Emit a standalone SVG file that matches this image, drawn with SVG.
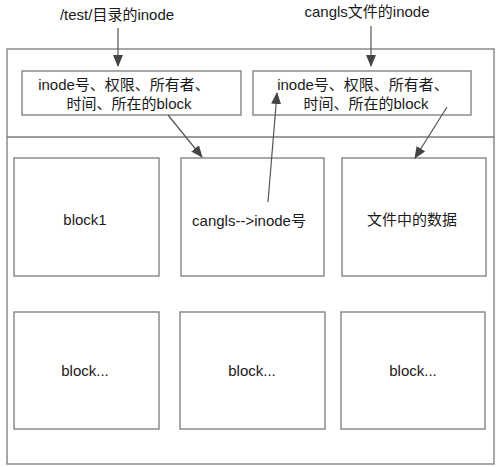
<svg xmlns="http://www.w3.org/2000/svg" width="500" height="467" viewBox="0 0 500 467">
<style>
.box{fill:#fff;stroke:#7a7a7a;stroke-width:1.3}
.t{font-family:"Liberation Sans","Noto Sans CJK SC",sans-serif;font-size:15px;fill:#1a1a1a;text-anchor:middle}
.c{stroke:#555;stroke-width:1.2;fill:none}
</style>
<defs>
<marker id="ah" markerWidth="12" markerHeight="10" refX="11" refY="5" orient="auto" markerUnits="userSpaceOnUse">
<path d="M0,0 L12,5 L0,10 Z" fill="#444"/>
</marker>
</defs>
<rect width="500" height="467" fill="#fff"/>
<g id="outer">
<rect class="box" x="7" y="49" width="487" height="415"/>
<line x1="7" y1="137" x2="494" y2="137" stroke="#7a7a7a" stroke-width="1.3"/>
</g>
<g id="label-test"><text class="t" x="117" y="20">/test/目录的inode</text></g>
<g id="label-cangls"><text class="t" x="367" y="17">cangls文件的inode</text></g>
<g id="inode-test">
<rect class="box" x="22" y="71" width="219" height="44"/>
<text class="t" x="124" y="90">inode号、权限、所有者、</text>
<text class="t" x="129" y="109">时间、所在的block</text>
</g>
<g id="inode-cangls">
<rect class="box" x="253" y="71" width="218" height="44"/>
<text class="t" x="363" y="90">inode号、权限、所有者、</text>
<text class="t" x="366" y="109">时间、所在的block</text>
</g>
<g id="block1">
<rect class="box" x="14" y="158" width="145" height="118"/>
<text class="t" x="85" y="225">block1</text>
</g>
<g id="block-dir">
<rect class="box" x="181" y="158" width="143" height="118"/>
<text class="t" x="249" y="226">cangls--&gt;inode号</text>
</g>
<g id="block-data">
<rect class="box" x="342" y="158" width="144" height="118"/>
<text class="t" x="412" y="225">文件中的数据</text>
</g>
<g id="block-a">
<rect class="box" x="14" y="312" width="145" height="117"/>
<text class="t" x="85" y="376">block...</text>
</g>
<g id="block-b">
<rect class="box" x="180" y="312" width="145" height="117"/>
<text class="t" x="252" y="376">block...</text>
</g>
<g id="block-c">
<rect class="box" x="341" y="312" width="144" height="117"/>
<text class="t" x="413" y="376">block...</text>
</g>
<g id="connectors">
<line class="c" x1="118" y1="28" x2="118" y2="66" marker-end="url(#ah)"/>
<line class="c" x1="371" y1="26" x2="371" y2="66" marker-end="url(#ah)"/>
<line class="c" x1="168" y1="115" x2="202" y2="157" marker-end="url(#ah)"/>
<line class="c" x1="268" y1="202" x2="277" y2="93" marker-end="url(#ah)"/>
<line class="c" x1="447" y1="107" x2="415" y2="158" marker-end="url(#ah)"/>
</g>
</svg>
